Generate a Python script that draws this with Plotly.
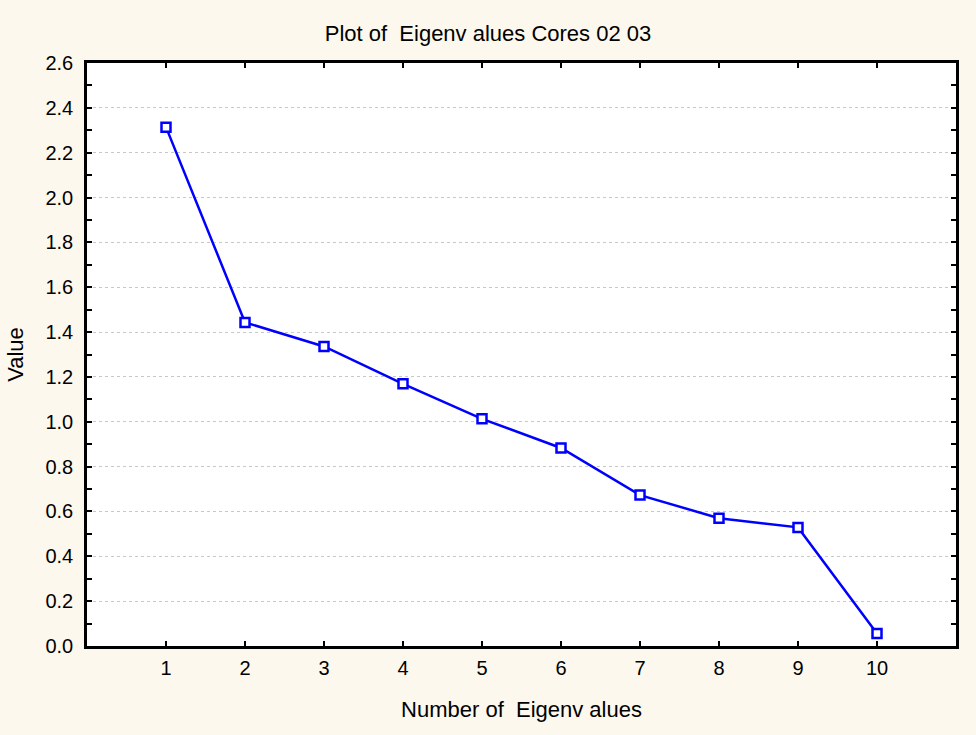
import plotly.graph_objects as go

# Scree plot data
eigen_number = [1, 2, 3, 4, 5, 6, 7, 8, 9, 10]
eigen_value = [2.314, 1.443, 1.336, 1.169, 1.013, 0.883, 0.673, 0.570, 0.529, 0.056]
y_ticks = [0.0, 0.2, 0.4, 0.6, 0.8, 1.0, 1.2, 1.4, 1.6, 1.8, 2.0, 2.2, 2.4, 2.6]

font_family = "Liberation Sans, Arial, sans-serif"
tick_font = dict(family=font_family, size=20, color="black")
label_font = dict(family=font_family, size=22, color="black")

fig = go.Figure()
fig.add_trace(go.Scatter(
    x=eigen_number, y=eigen_value,
    mode="lines+markers",
    line=dict(color="#0000ff", width=2.5),
    marker=dict(symbol="square", size=9, color="white",
                line=dict(width=2.5, color="#0000ff")),
    showlegend=False,
))

axis_common = dict(
    showline=True, linecolor="black", linewidth=2.5, mirror="ticks",
    ticks="inside", ticklen=5, tickwidth=2, tickcolor="black",
    zeroline=False, tickfont=tick_font,
)

fig.update_xaxes(
    range=[0, 11], tickvals=eigen_number, showgrid=False,
    ticklabelstandoff=2,
    title=dict(text="Number of  Eigenv alues", font=label_font, standoff=24),
    **axis_common,
)
fig.update_yaxes(
    range=[0, 2.6], tickvals=y_ticks, ticktext=[f"{v:.1f}" for v in y_ticks],
    showgrid=True, gridcolor="#c8c8c8", gridwidth=1, griddash="dot",
    ticklabelstandoff=7,
    minor=dict(dtick=0.1, ticks="inside", ticklen=5, tickwidth=2, tickcolor="black", showgrid=False),
    title=dict(text="Value", font=label_font, standoff=16),
    **axis_common,
)

fig.update_layout(
    width=976, height=735,
    margin=dict(l=87, r=20, t=63, b=89),
    paper_bgcolor="#fdf8ee", plot_bgcolor="white",
    title=dict(text="Plot of  Eigenv alues Cores 02 03", x=0.5, xanchor="center",
               y=1 - 33 / 735, yanchor="middle", font=label_font),
)

fig.write_html("out.html")
